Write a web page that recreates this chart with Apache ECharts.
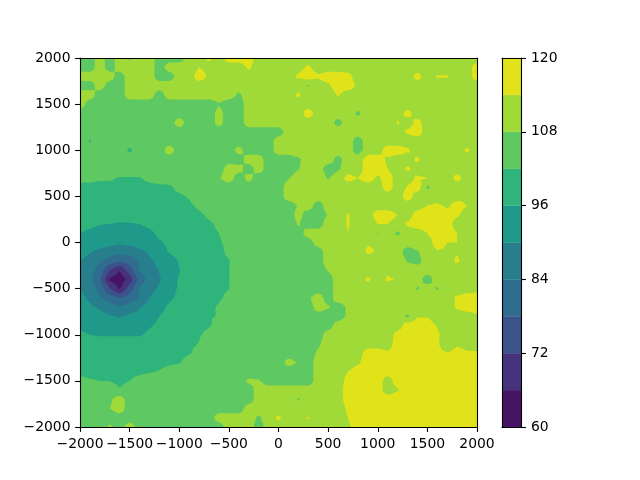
<!DOCTYPE html>
<html><head><meta charset="utf-8">
<style>html,body{margin:0;padding:0;background:#fff}#c{width:640px;height:480px}</style>
<script src="https://cdn.jsdelivr.net/npm/echarts@6/dist/echarts.min.js"></script>
</head><body><div id="c"></div>
<script>
const xs=[-2000,-1900,-1800,-1700,-1600,-1500,-1400,-1300,-1200,-1100,-1000,-900,-800,-700,-600,-500,-400,-300,-200,-100,0,100,200,300,400,500,600,700,800,900,1000,1100,1200,1300,1400,1500,1600,1700,1800,1900,2000];
const ys=[2000,1900,1800,1700,1600,1500,1400,1300,1200,1100,1000,900,800,700,600,500,400,300,200,100,0,-100,-200,-300,-400,-500,-600,-700,-800,-900,-1000,-1100,-1200,-1300,-1400,-1500,-1600,-1700,-1800,-1900,-2000];
const levels=[60,66,72,78,84,90,96,102,108,114,120];
const bandColors=['#471365','#47327c','#3b528b','#2f6c8e','#277f8e','#1f9a8a','#2fb47c','#5ec962','#a0da39','#e0e319'];
const xTicks=[-2000,-1500,-1000,-500,0,500,1000,1500,2000];
const cbTicks=[60,72,84,96,108,120];
const row00=[105,105,111,105,111,107,111,111,105,105,105,111,111,115,111,117,117,117,111,111,111,111,111,111,111,111,111,111,111,111,111,113,111,111,111,111,111,111,111,111,111];
const row01=[105,105,111,105,111,111,111,111,105,111,111,111,114,112,111,111,111,115,111,111,111,111,112,115,111,111,111,111,111,111,111,111,111,111,111,111,111,111,111,111,117];
const row02=[111,111,111,111,105,111,111,111,105,105,111,111,117,113,111,111,111,111,111,111,111,111,115,117,115,117,117,116,111,111,111,111,111,111,116,111,114.5,114.5,111,111,117];
const row03=[105,105,111,105,105,111,111,111,111,111,111,111,111,111,111,111,111,111,111,111,111,111,111,107.5,111,113,117,117,113,111,111,111,111,111,111,111,111,111,111,111,111];
const row04=[111,111,105,105,105,111,111,111,105,111,111,111,111,111,111,111,107,111,111,111,111,111,115,111,111,111,114.5,111,111,111,111,111,111,111,111,111,111,111,111,111,111];
const row05=[111,105,105,105,105,105,105,105,105,105,105,105,105,105,107.5,105,105,111,111,111,111,111,111,111,111,111,111,111,111,111,111,111,111,111,111,111,111,111,111,111,111];
const row06=[105,105,105,105,105,105,105,105,105,105,105,105,105,105,110,105,105,111,111,111,111,111,111,117,111,111,111,111,107,111,111,111,111,116,111,111,111,111,111,111,111];
const row07=[105,105,105,105,105,105,105,105,105,105,111,105,105,105,110,105,105,111,111,111,111,111,111,111,111,111,106,111,111,111,111,111,114.5,111,116,111,111,111,111,111,111];
const row08=[105,105,105,105,105,105,105,105,105,105,105,105,105,105,105,105,105,105,105,105,105,111,111,111,111,111,111,111,111,111,111,111,111,115,117,111,111,111,111,111,111];
const row09=[105,101.5,105,105,105,105,105,105,105,105,105,105,105,105,105,105,105,105,105,105,111,111,111,111,111,111,111,111,105,111,111,111,111,111,111,111,111,111,111,111,111];
const row10=[105,105,105,105,105,101,105,105,105,111,105,105,105,105,105,105,110,105,105,105,111,111,111,111,111,111,111,111,105,111,111,117,117,115,111,111,111,111,111,115,111];
const row11=[105,105,105,105,105,105,105,105,105,105,105,105,105,105,105,105,105,111,111,105,105,105,107,111,111,111,106,111,111,117,117,113,111,111,115,111,111,111,111,111,111];
const row12=[105,105,105,105,105,105,105,105,105,105,105,105,105,105,105,111,110,105,111,105,105,105,107.5,111,111,105,107,111,111,117,117,114,111,115,111,111,111,111,111,111,113];
const row13=[103,103,102.5,102.5,101.7,101.7,101.7,103,104,105,105,105,105,105,107.5,111,105,110,105,105,105,107.5,111,111,111,107.5,111,116,114,117,113,117,111,111,115,114,111,111,116,111,111];
const row14=[101,101,101,101,101,101,101,101,101,101,103.5,105,105,105,105,105,105,105,105,105,105,111,114,111,111,111,111,111,111,111,111,117,111,114.5,117,107,111,111,111,111,111];
const row15=[100.5,100.5,100.5,100.5,100.5,100.5,100.5,100.5,100.5,101,101,102.5,105,105,105,105,105,105,105,105,105,111,111,111,111,111,111,111,111,111,111,111,111,117,111,111,111,111,111,113,111];
const row16=[100,100,100,100,100,100,100,100,100,100,100.5,101,103,105,105,105,105,105,105,105,105,105,108.5,111,105,111,111,111,111,111,111,111,111,111,111,114,115,113,117,114,111];
const row17=[99,98.5,98,98,98,98,98,98.5,99,99.5,100,100.5,101,103,105,105,105,105,105,105,105,105,110,105,105,108.5,111,114.5,111,111,117,117,114,111,117,117,117,117,115,111,111];
const row18=[97.5,97,96.2,96,95.5,95.7,96,97,98,98.5,99,100,100.5,101,103,105,105,105,105,105,105,105,108.5,105,105,111,111,114.5,111,111,114,114,111,115,117,117,117,117,111,111,111];
const row19=[96,95,94,93.5,93,93.5,94,95,97,98,99,99.5,100,101,102,104,105,105,105,105,105,105,105,111,111,111,111,114,111,114,107.5,111,107,111,111,114,117,117,114,111,111];
const row20=[94,94,93,92,91,92,93,94,95.5,97,98,99,100,100.5,101.5,103,105,105,105,105,105,105,105,105,111,111,111,111,111,113.5,113.5,111,111,111,111,111,117,114,114,111,111];
const row21=[92,90.5,88.5,87,86,86.5,88.5,91,93.5,96.5,98,99,100,100.5,101,102.8,105,105,105,105,105,105,105,105,105,111,111,111,111,115,113.5,111,111,105,107.5,111,113.5,113,113.5,111,111];
const row22=[90,88,84.5,81.5,79,80.5,85,89,91.5,93.5,96.5,98,99.5,100.5,101,101.8,105,105,105,105,105,105,105,105,105,111,111,111,111,111,111,111,111,107.5,106,111,111,111,115,111,111];
const row23=[89,86,82,72,66.5,75,84.5,88,90.3,93,95.8,98,99.5,100.5,101,101.8,105,105,105,105,105,105,105,105,105,108.5,111,111,111,111,111,113,111,111,111,111,111,111,111,111,111];
const row24=[88.5,85.5,79,65,62,68.5,80.5,86,89.5,93,96.5,98,99.5,100.5,101,101.8,105,105,105,105,105,105,105,105,105,105,111,111,111,115,111,114.8,113.5,111,111,105,111,111,111,111,111];
const row25=[90.2,87,82,72.5,65.5,75,84.5,88,91,94,96.7,98,99.5,100.5,101.5,101.9,105,105,105,105,105,105,105,105,105,105,111,111,111,111,111,111,111,111,107.5,111,107.5,111,111,111,112];
const row26=[91.5,89,85,81,78,81,84.5,90,92.5,95.2,97,98.5,99.5,100.5,101.3,103,105,105,105,105,105,105,105,107,111,105,111,111,111,111,111,111,111,111,111,111,111,111,115,117,117];
const row27=[93,91,89,87,84.5,86.5,89.5,92,94.5,97,98,99,100,101,102.5,105,105,105,105,105,105,105,105,105,111,108.5,105,109,111,111,111,111,111,111,111,111,111,111,115,117,117];
const row28=[94.5,93,92,90.5,89.5,91,92,94,96,97.5,98.5,99.5,100.5,101.5,102.3,105,105,105,105,105,105,105,105,105,105,105,105,109,111,111,111,111,111,107,113.5,113.5,111,111,111,111,113];
const row29=[95,94,93.5,93,93,93,94,95.5,97,98,99,100,100.5,101.5,104,105,105,105,105,105,105,105,105,105,105,105,111,111,111,111,111,111,111,117,117,117,113.5,111,111,111,111];
const row30=[97,96,95.5,95.5,95.5,95.5,95.5,97,98,99,100,100.5,101.5,103.5,105,105,105,105,105,105,105,105,105,105,105,111,111,111,111,111,111,111,116,117,117,117,115,111,111,111,111];
const row31=[98.5,98.5,98.5,98.5,98.5,98.5,98.5,99,99.5,100,100.5,101,102.2,105,105,105,105,105,105,105,105,105,105,105,107,111,111,111,111,111,111,111,117,117,117,117,115,109,113,111,111];
const row32=[100,100,100,100,100,100,100,100,100,100,100,101.5,104,105,105,105,105,105,105,105,105,105,105,105,109,111,111,111,111,117,117,115,117,117,117,117,116,114.2,117,115,115];
const row33=[100.5,100.5,100.5,100.5,100.5,100.5,100.5,100.5,100.5,101,101.5,105,105,105,105,105,105,105,105,105,105,110,107.5,105,111,111,111,111,113,117,117,117,117,117,117,117,117,117,117,117,117];
const row34=[101,101,101,101,101,101,101,101.5,102.3,104,105,105,105,105,105,105,105,105,105,105,105,105,105,105,111,111,111,114,117,117,117,117,117,117,117,117,117,117,117,117,117];
const row35=[103,102.3,102,102,100.5,102,103.5,105,105,105,105,105,105,105,105,105,105,109,108.5,105,105,105,105,105,111,111,111,116,117,117,117,111,117,117,117,117,117,117,117,117,117];
const row36=[105,105,105,105,102.5,105,105,105,105,105,105,105,105,105,105,105,105,105,111,111,111,111,111,111,111,111,111,117,117,117,117,111,113.5,117,117,117,117,117,117,117,117];
const row37=[105,105,105,107,111,105,105,105,105,105,105,105,105,105,105,105,105,105,111,111,111,111,107.5,111,111,111,111,117,117,117,117,117,117,117,117,117,117,117,117,117,117];
const row38=[105,105,105,108,111,105,105,105,105,105,105,105,105,105,105,105,105,111,111,111,111,111,111,111,111,111,111,115,117,117,117,117,117,117,117,117,117,117,117,117,117];
const row39=[105,105,105,105,105,105,105,105,105,105,105,105,105,105,111,111,111,111,107,111,115,111,111,114.5,111,111,111,114,117,117,117,117,117,117,117,117,117,117,117,117,117];
const row40=[105,105,105,109,105,111,105,105,105,105,105,105,105,105,105,111,111,111,105,111,111,111,111,111,111,111,111,113,117,117,117,117,117,117,117,117,117,117,117,117,117];
const Z=[row00,row01,row02,row03,row04,row05,row06,row07,row08,row09,row10,row11,row12,row13,row14,row15,row16,row17,row18,row19,row20,row21,row22,row23,row24,row25,row26,row27,row28,row29,row30,row31,row32,row33,row34,row35,row36,row37,row38,row39,row40];

function clipAbove(tri,lev){
  const out=[];
  for(let k=0;k<tri.length;k++){
    const a=tri[k],b=tri[(k+1)%tri.length];
    const ina=a[2]>=lev,inb=b[2]>=lev;
    if(ina)out.push(a);
    if(ina!==inb){const t=(lev-a[2])/(b[2]-a[2]);out.push([a[0]+t*(b[0]-a[0]),a[1]+t*(b[1]-a[1]),lev]);}
  }
  return out;
}
function polyStr(p,api){
  return p.map((q,n)=>{const s=api.coord([q[0],q[1]]);return (n?'L':'M')+s[0].toFixed(2)+' '+s[1].toFixed(2);}).join('')+'Z';
}
function regionPath(lev,api){
  let d='';
  for(let j=0;j<ys.length-1;j++)for(let i=0;i<xs.length-1;i++){
    const c=[[xs[i],ys[j],Z[j][i]],[xs[i+1],ys[j],Z[j][i+1]],[xs[i+1],ys[j+1],Z[j+1][i+1]],[xs[i],ys[j+1],Z[j+1][i]]];
    if(Math.min(c[0][2],c[1][2],c[2][2],c[3][2])>=lev){d+=polyStr(c,api);continue;}
    if(Math.max(c[0][2],c[1][2],c[2][2],c[3][2])<lev)continue;
    const m=[(xs[i]+xs[i+1])/2,(ys[j]+ys[j+1])/2,(c[0][2]+c[1][2]+c[2][2]+c[3][2])/4];
    for(let k=0;k<4;k++){
      const p=clipAbove([c[k],c[(k+1)%4],m],lev);
      if(p.length>=3)d+=polyStr(p,api);
    }
  }
  return d;
}
function renderField(params,api){
  const children=bandColors.map((col,b)=>({type:'path',shape:{pathData:regionPath(levels[b],api)},style:{fill:col},silent:true}));
  return {type:'group',children};
}
const cbBands=bandColors.map((c,b)=>[levels[b],levels[b+1],b]);
function renderBand(params,api){
  const lo=api.coord([0,api.value(0)]),hi=api.coord([1,api.value(1)]);
  return {type:'rect',shape:{x:lo[0],y:hi[1],width:hi[0]-lo[0],height:lo[1]-hi[1]},
    style:{fill:bandColors[api.value(2)],stroke:bandColors[api.value(2)],lineWidth:0.3},silent:true};
}
const font={fontFamily:'DejaVu Sans',fontSize:13.9,color:'#000'};
const line={show:true,onZero:false,lineStyle:{color:'#000',width:1.1}};
const tick={show:true,length:4.9,lineStyle:{color:'#000',width:1.1}};
const fmt=v=>String(v).replace('-','\u2212');
const bare={axisLabel:{show:false},axisTick:{show:false},splitLine:{show:false},axisLine:line,z:5};
const option={
  animation:false,backgroundColor:'#fff',
  grid:[{left:80,top:58,width:397,height:369},{left:502,top:58,width:19,height:369}],
  xAxis:[
    {gridIndex:0,type:'value',min:-2000,max:2000,interval:500,position:'bottom',axisLine:line,splitLine:{show:false},z:5,
      axisLabel:{...font,margin:10,formatter:fmt,customValues:xTicks},axisTick:{...tick,customValues:xTicks}},
    {gridIndex:0,type:'value',min:-2000,max:2000,position:'top',...bare},
    {gridIndex:1,type:'value',min:0,max:1,position:'bottom',...bare},
    {gridIndex:1,type:'value',min:0,max:1,position:'top',...bare}
  ],
  yAxis:[
    {gridIndex:0,type:'value',min:-2000,max:2000,interval:500,position:'left',axisLine:line,splitLine:{show:false},z:5,
      axisLabel:{...font,margin:9.5,formatter:fmt,customValues:xTicks},axisTick:{...tick,customValues:xTicks}},
    {gridIndex:0,type:'value',min:-2000,max:2000,position:'right',...bare},
    {gridIndex:1,type:'value',min:60,max:120,interval:12,position:'right',axisLine:line,splitLine:{show:false},z:5,
      axisLabel:{...font,margin:10,customValues:cbTicks},axisTick:{...tick,customValues:cbTicks}},
    {gridIndex:1,type:'value',min:60,max:120,position:'left',...bare}
  ],
  series:[
    {type:'custom',xAxisIndex:0,yAxisIndex:0,coordinateSystem:'cartesian2d',data:[[0,0]],renderItem:renderField,clip:true,z:1,silent:true},
    {type:'custom',xAxisIndex:2,yAxisIndex:2,coordinateSystem:'cartesian2d',data:cbBands,renderItem:renderBand,clip:true,z:1,silent:true,encode:{y:[0,1]}}
  ]
};
echarts.init(document.getElementById('c'),null,{renderer:'canvas'}).setOption(option);
</script></body></html>
